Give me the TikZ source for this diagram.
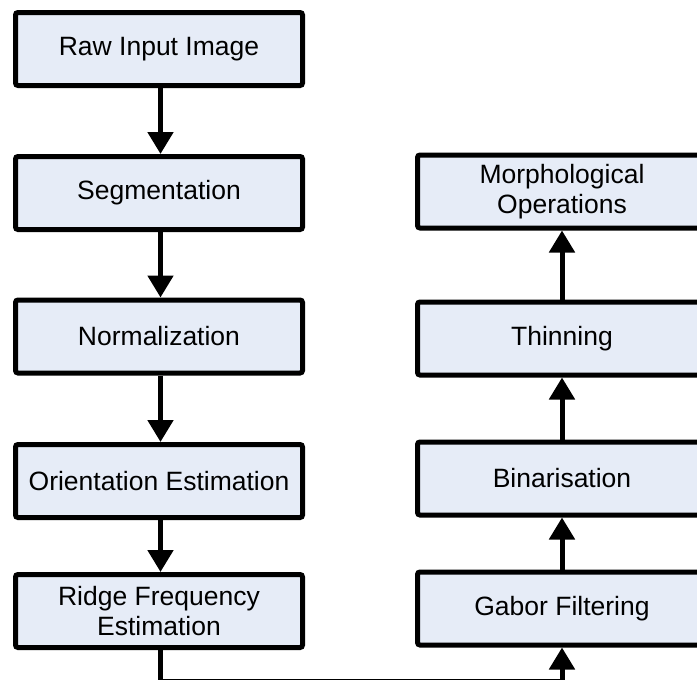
\documentclass[tikz,border=0pt]{standalone}
\usepackage{fontspec}
\setmainfont{Liberation Sans}
\usetikzlibrary{arrows.meta}
\definecolor{boxfill}{RGB}{230,236,247}
\tikzset{
  stage/.style={draw=black, line width=5pt, fill=boxfill, rounded corners=2.5pt,
    minimum width=287pt, minimum height=73pt, inner sep=0pt, align=center,
    font=\fontsize{26.5pt}{29.5pt}\selectfont},
  flow/.style={line width=5pt, -{Triangle[width=25pt,length=22pt]}},
}
\begin{document}
\begin{tikzpicture}[x=1pt,y=-1pt]
  \useasboundingbox (0,0) rectangle (697,680);
  \clip (0,0) rectangle (697,680);
  % left column
  \node[stage] (raw)  at (159,49)  {Raw Input Image};
  \node[stage] (seg)  at (159,193) {Segmentation};
  \node[stage] (norm) at (159,336.5) {Normalization};
  \node[stage] (ori)  at (159,481) {Orientation Estimation};
  \node[stage] (rfe)  at (159,611) {Ridge Frequency\\Estimation};
  % right column
  \node[stage, minimum width=289pt] (gab)  at (562,608.5) {Gabor Filtering};
  \node[stage, minimum width=289pt] (bin)  at (562,478.5) {Binarisation};
  \node[stage, minimum width=289pt] (thin) at (562,338.5) {Thinning};
  \node[stage, minimum width=289pt] (morph) at (562,191.5) {Morphological\\Operations};
  \coordinate (c1) at (160.5,681);
  \coordinate (c2) at (562,681);
  % connectors
  \draw[flow] ([xshift=1.5pt]raw.south) -- ([xshift=1.5pt]seg.north);
  \draw[flow] ([xshift=1.5pt]seg.south) -- ([xshift=1.5pt]norm.north);
  \draw[flow] ([xshift=1.5pt]norm.south) -- ([xshift=1.5pt]ori.north);
  \draw[flow] ([xshift=1.5pt]ori.south) -- ([xshift=1.5pt]rfe.north);
  \draw[flow] ([xshift=1.5pt]rfe.south) -- (c1) -- (c2) -- (gab.south);
  \draw[flow] (gab.north) -- (bin.south);
  \draw[flow] (bin.north) -- (thin.south);
  \draw[flow] (thin.north) -- (morph.south);
\end{tikzpicture}
\end{document}
